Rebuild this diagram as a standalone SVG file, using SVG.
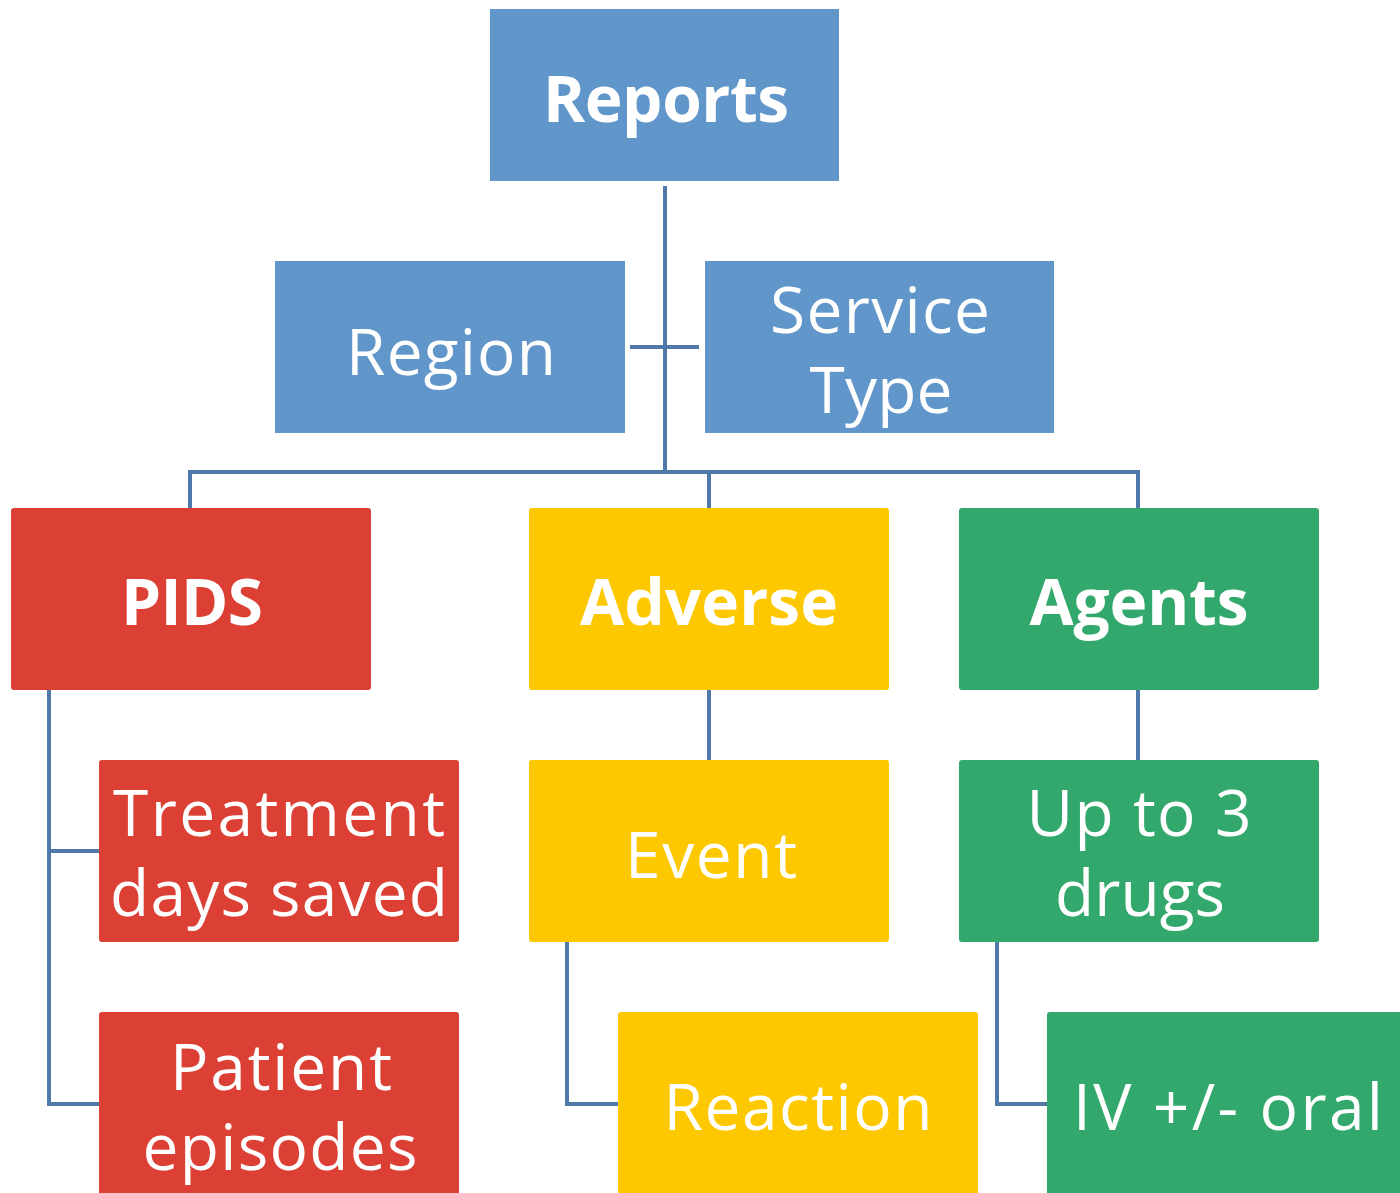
<svg xmlns="http://www.w3.org/2000/svg" width="1400" height="1193" viewBox="0 0 1400 1193">
<style>
.blue{fill:#6096C9}
.red{fill:#DC3F34}
.yel{fill:#FDC800}
.grn{fill:#33A86C}
.t{font-family:"Open Sans","Noto Sans","Liberation Sans",sans-serif;fill:#fff;text-anchor:middle;font-size:64px}
.b{font-weight:bold}
.c{fill:none;stroke:#4E79A8;stroke-width:4}
</style>
<rect width="1400" height="1193" fill="#fff"/>
<g id="connectors">
<path class="c" d="M665,186V472"/>
<path class="c" d="M630,347H699"/>
<path class="c" d="M190,508V472H1138V508"/>
<path class="c" d="M709,472V508"/>
<path class="c" d="M49,690V1104H99"/>
<path class="c" d="M49,851H99"/>
<path class="c" d="M709,690V760"/>
<path class="c" d="M567,942V1104H618"/>
<path class="c" d="M1138,690V760"/>
<path class="c" d="M997,942V1104H1047"/>
</g>
<g id="reports"><rect class="blue" x="490" y="9" width="349" height="172"/><text class="t b" x="666" y="122" textLength="246">Reports</text></g>
<g id="region"><rect class="blue" x="275" y="261" width="350" height="172"/><text class="t" x="451" y="375" textLength="210">Region</text></g>
<g id="service-type"><rect class="blue" x="705" y="261" width="349" height="172"/><text class="t" x="880" y="333" textLength="220">Service</text><text class="t" x="881" y="413" textLength="143">Type</text></g>
<g id="pids"><rect class="red" x="11" y="508" width="360" height="182" rx="3"/><text class="t b" x="192" y="625" textLength="142">PIDS</text></g>
<g id="adverse"><rect class="yel" x="529" y="508" width="360" height="182" rx="3"/><text class="t b" x="709" y="625" textLength="258">Adverse</text></g>
<g id="agents"><rect class="grn" x="959" y="508" width="360" height="182" rx="3"/><text class="t b" x="1139" y="625" textLength="219">Agents</text></g>
<g id="treatment"><rect class="red" x="99" y="760" width="360" height="182" rx="3"/><text class="t" x="279" y="836" textLength="332">Treatment</text><text class="t" x="279" y="916" textLength="338">days saved</text></g>
<g id="event"><rect class="yel" x="529" y="760" width="360" height="182" rx="3"/><text class="t" x="711" y="878" textLength="172">Event</text></g>
<g id="up-to-3"><rect class="grn" x="959" y="760" width="360" height="182" rx="3"/><text class="t" x="1139" y="836" textLength="225">Up to 3</text><text class="t" x="1140" y="916" textLength="170">drugs</text></g>
<g id="patient"><rect class="red" x="99" y="1012" width="360" height="190" rx="3"/><text class="t" x="281" y="1090" textLength="222">Patient</text><text class="t" x="280" y="1170" textLength="275">episodes</text></g>
<g id="reaction"><rect class="yel" x="618" y="1012" width="360" height="190" rx="3"/><text class="t" x="798" y="1130" textLength="269">Reaction</text></g>
<g id="iv"><rect class="grn" x="1047" y="1012" width="360" height="190" rx="3"/><text class="t" x="1228" y="1130" textLength="310">IV +/- oral</text></g>
</svg>
